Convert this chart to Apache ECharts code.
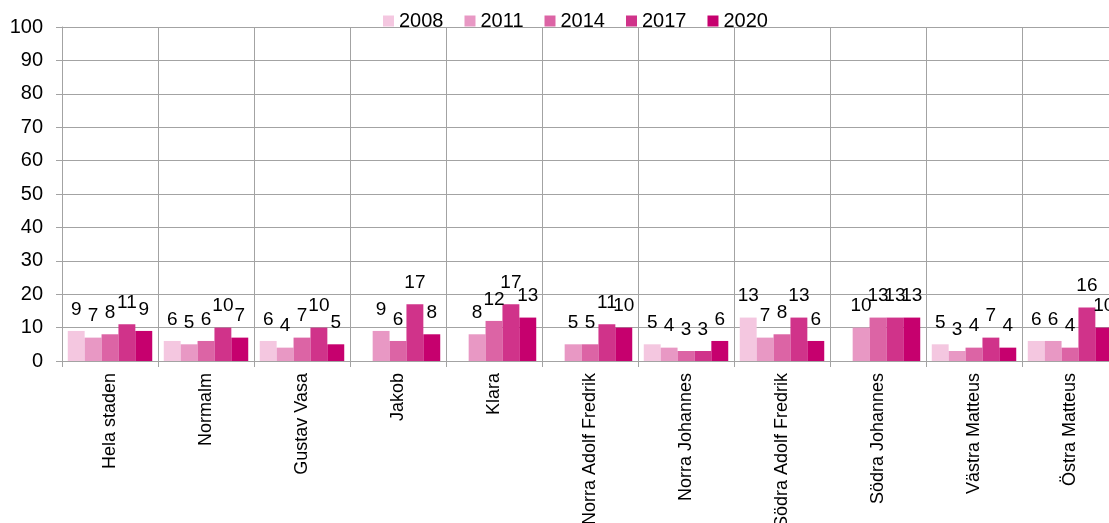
<!DOCTYPE html>
<html>
<head>
<meta charset="utf-8">
<script src="https://cdn.jsdelivr.net/npm/echarts@6/dist/echarts.min.js"></script>
<style>html,body{margin:0;padding:0;background:#fff}#c{width:1109px;height:523px}</style>
</head>
<body>
<div id="c"></div>
<script>
const categories = ["Hela staden","Normalm","Gustav Vasa","Jakob","Klara","Norra Adolf Fredrik","Norra Johannes","Södra Adolf Fredrik","Södra Johannes","Västra Matteus","Östra Matteus"];
const years = ["2008","2011","2014","2017","2020"];
const v2008 = [9, 6, 6, null, null, null, 5, 13, null, 5, 6];
const v2011 = [7, 5, 4, 9, 8, 5, 4, 7, 10, 3, 6];
const v2014 = [8, 6, 7, 6, 12, 5, 3, 8, 13, 4, 4];
const v2017 = [11, 10, 10, 17, 17, 11, 3, 13, 13, 7, 16];
const v2020 = [9, 7, 5, 8, 13, 10, 6, 6, 13, 4, 10];
const yTicks = {min: 0, max: 100, interval: 10};

const colors = ["#f4c7e0", "#e898c4", "#dc64a5", "#d0338a", "#c6006e"];
const seriesData = [v2008, v2011, v2014, v2017, v2020];
const FONT = "Liberation Sans, Arial, sans-serif";
const gridColor = "#a3a3a3";

const chart = echarts.init(document.getElementById('c'), null, {renderer: 'canvas'});
chart.setOption({
  animation: false,
  color: colors,
  legend: {
    data: years,
    left: 378,
    top: 6,
    itemWidth: 11,
    itemHeight: 11,
    itemGap: 21,
    icon: 'rect',
    textStyle: {fontFamily: FONT, fontSize: 20, color: '#000'}
  },
  grid: {left: 62, right: -9, top: 27, bottom: 162, containLabel: false, outerBoundsMode: 'none'},
  xAxis: {
    type: 'category',
    data: categories,
    axisLine: {show: true, lineStyle: {color: gridColor, width: 1}},
    axisTick: {show: true, length: 6, lineStyle: {color: gridColor}},
    splitLine: {show: true, lineStyle: {color: gridColor, width: 1}},
    axisLabel: {rotate: 90, fontFamily: FONT, fontSize: 18, color: '#000', margin: 12, interval: 0}
  },
  yAxis: {
    type: 'value',
    min: yTicks.min, max: yTicks.max, interval: yTicks.interval,
    axisLine: {show: true, lineStyle: {color: gridColor, width: 1}},
    axisTick: {show: true, length: 6, lineStyle: {color: gridColor}},
    splitLine: {show: true, lineStyle: {color: gridColor, width: 1}},
    axisLabel: {fontFamily: FONT, fontSize: 20, color: '#000', margin: 19}
  },
  series: years.map((y, i) => ({
    name: y,
    type: 'bar',
    data: seriesData[i],
    barGap: '0%',
    barCategoryGap: '12%',
    itemStyle: {color: colors[i]},
    label: {show: true, position: 'top', distance: 12, fontFamily: FONT, fontSize: 19, color: '#000'}
  }))
});
</script>
</body>
</html>
